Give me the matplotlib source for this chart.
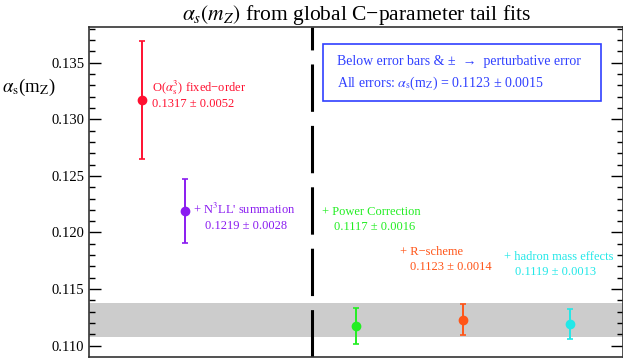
import matplotlib
matplotlib.use("Agg")
import matplotlib.pyplot as plt
from matplotlib.ticker import MultipleLocator, FormatStrFormatter

plt.rcParams['font.family'] = ['Liberation Serif', 'DejaVu Serif']
plt.rcParams['mathtext.fontset'] = 'stix'

# fit results
labels = [r'O($\alpha_\mathrm{s}^3$) fixed−order', "+ N$^3$LL' summation", '+ Power Correction',
          '+ R−scheme', '+ hadron mass effects']
values = [0.1317, 0.1219, 0.1117, 0.1123, 0.1119]
errors = [0.0052, 0.0028, 0.0016, 0.0014, 0.0013]
xpos = [1.0, 1.8, 5.0, 7.0, 9.0]
colors = ['#ff1030', '#8a1cf0', '#22ee22', '#ff5518', '#22e8e8']

band_center = 0.1123
band_err = 0.0015
divider_x = 4.18

# where the two text lines of each label go (data coords)
lab1_pos = [(1.18, 0.13276), (1.95, 0.12200), (4.37, 0.12180), (5.83, 0.11828), (7.77, 0.11784)]
lab2_pos = [(1.18, 0.13135), (2.18, 0.12057), (4.58, 0.12049), (6.02, 0.11695), (7.97, 0.11651)]

fig = plt.figure(figsize=(6.23, 3.6), dpi=100)
ax = fig.add_axes([89/623, 3.3/360, 534/623, 329.4/360])

ax.axhspan(band_center - band_err, band_center + band_err, color='#cccccc', lw=0, zorder=0)
ax.axvline(divider_x, color='black', lw=2.2, dashes=(15.5, 4.6), zorder=1)

for i in range(len(values)):
    ax.errorbar(xpos[i], values[i], yerr=errors[i], fmt='o', color=colors[i], ms=6,
                elinewidth=1.4, capsize=2.5, capthick=1.2, zorder=3)
    ax.text(lab1_pos[i][0], lab1_pos[i][1], labels[i], color=colors[i], fontsize=9,
            ha='left', va='center')
    ax.text(lab2_pos[i][0], lab2_pos[i][1], f'{values[i]:.4f} ± {errors[i]:.4f}',
            color=colors[i], fontsize=9, ha='left', va='center')

# info box
box_color = '#3040ff'
ax.add_patch(plt.Rectangle((4.38, 0.13162), 9.59 - 4.38, 0.13665 - 0.13162, fill=False,
                           ec=box_color, lw=1.2, zorder=4))
ax.text(4.65, 0.13515, 'Below error bars & ±  →  perturbative error', color=box_color,
        fontsize=10, ha='left', va='center')
ax.text(4.65, 0.13321, r'All errors: $\alpha_\mathrm{s}$(m$_\mathrm{Z}$) = 0.1123 ± 0.0015',
        color=box_color, fontsize=10, ha='left', va='center')

ax.set_xlim(0, 10)
ax.set_ylim(0.10902, 0.13813)
ax.set_xticks([])
ax.yaxis.set_major_locator(MultipleLocator(0.005))
ax.yaxis.set_minor_locator(MultipleLocator(0.001))
ax.yaxis.set_major_formatter(FormatStrFormatter('%.3f'))
ax.tick_params(axis='y', which='both', direction='in', left=True, right=True, labelsize=10.5,
               labelfontfamily='Liberation Serif')
ax.tick_params(axis='y', which='major', length=8.5, width=1)
ax.tick_params(axis='y', which='minor', length=4.3, width=1)
for s in ax.spines.values():
    s.set_linewidth(1.2)
    s.set_color('#333333')

ax.set_title(r'$\alpha_s(m_Z)$ from global C−parameter tail fits', fontsize=15.5, pad=4)
fig.text(0.004, 1 - 87/360, r'$\alpha_\mathrm{s}$(m$_\mathrm{Z}$)', fontsize=13.5,
         ha='left', va='center')

fig.savefig('out.png', dpi=100)
